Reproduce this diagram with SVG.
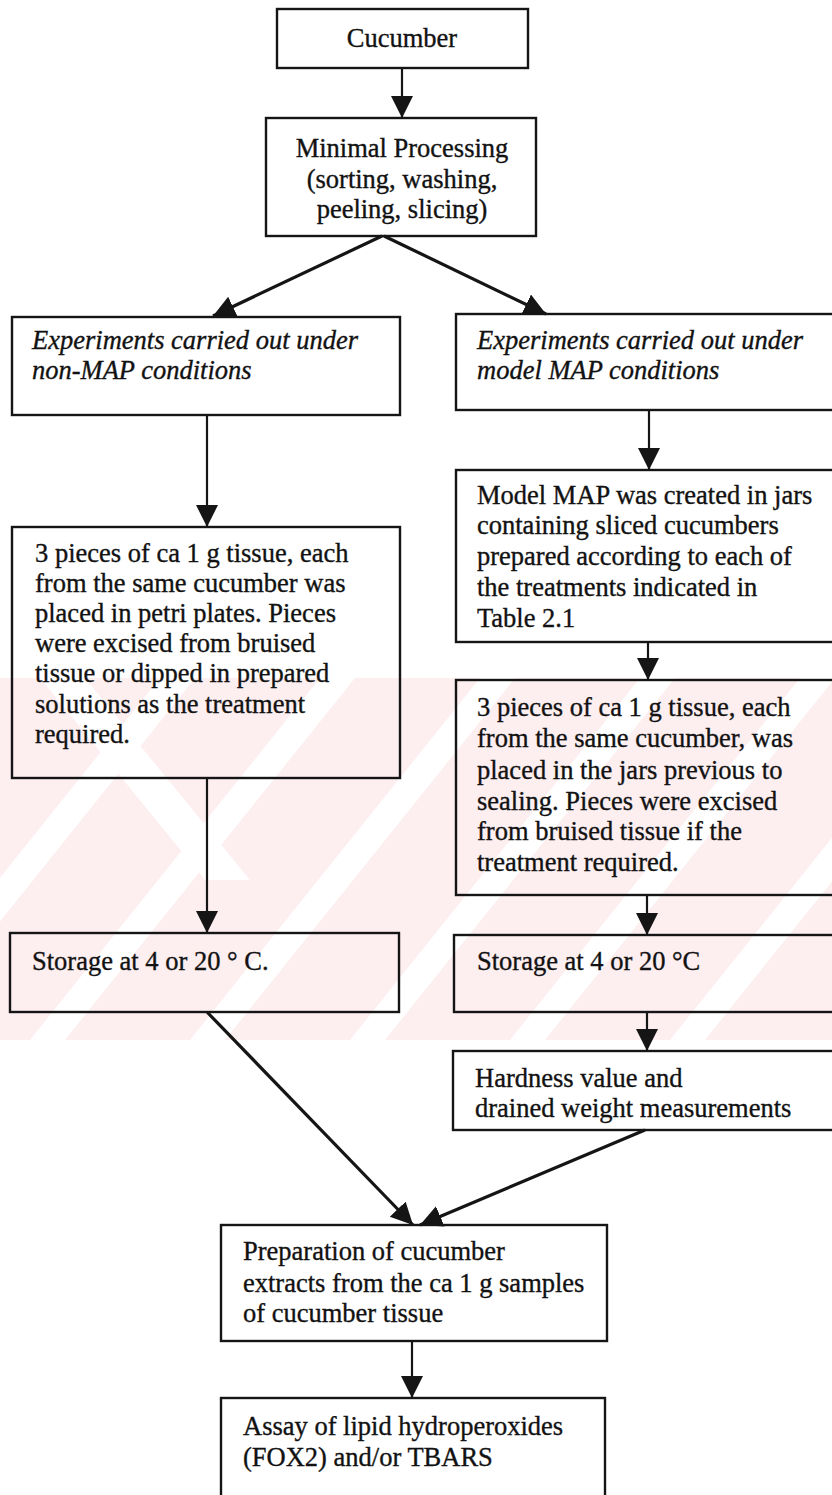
<svg xmlns="http://www.w3.org/2000/svg" width="832" height="1495" viewBox="0 0 832 1495">
<style>
  .box { fill: none; stroke: #151515; stroke-width: 2.4; }
  .t { font-family: "Liberation Serif", "Times New Roman", serif; font-size: 26.5px; fill: #121212; stroke: #121212; stroke-width: 0.35; }
  .ti { font-style: italic; }
  .c { text-anchor: middle; }
  .ln { stroke: #151515; stroke-width: 2.2; fill: none; }
  .dl { stroke: #151515; stroke-width: 3.2; fill: none; }
  .wm { fill: #ffffff; }
</style>
<defs>
  <marker id="ah" markerUnits="userSpaceOnUse" markerWidth="24" markerHeight="24" refX="22" refY="11" orient="auto">
    <path d="M0,0 L22,11 L0,22 z" fill="#151515"/>
  </marker>
  <clipPath id="wmclip"><rect x="0" y="678" width="832" height="362"/></clipPath>
</defs>
<rect x="0" y="0" width="832" height="1495" fill="#ffffff"/>
<g id="watermark" clip-path="url(#wmclip)">
  <rect x="0" y="678" width="832" height="362" fill="#fdeef0"/>
  <polygon class="wm" points="-130,1040 -95,1040 195,678 160,678"/>
  <polygon class="wm" points="30,1040 65,1040 355,678 320,678"/>
  <polygon class="wm" points="190,1040 225,1040 515,678 480,678"/>
  <polygon class="wm" points="350,1040 385,1040 675,678 640,678"/>
  <polygon class="wm" points="510,1040 545,1040 835,678 800,678"/>
  <polygon class="wm" points="670,1040 705,1040 995,678 960,678"/>
  <polygon class="wm" points="40,678 85,678 250,880 205,880"/>
</g>
<g id="connectors">
  <line class="ln" x1="402" y1="68" x2="402" y2="118" marker-end="url(#ah)"/>
  <line class="dl" x1="382" y1="236" x2="213" y2="316" marker-end="url(#ah)"/>
  <line class="dl" x1="384" y1="236" x2="546" y2="314" marker-end="url(#ah)"/>
  <line class="ln" x1="207" y1="415" x2="207" y2="527" marker-end="url(#ah)"/>
  <line class="ln" x1="207" y1="778" x2="207" y2="933" marker-end="url(#ah)"/>
  <line class="dl" x1="207" y1="1012" x2="413" y2="1225" marker-end="url(#ah)"/>
  <line class="ln" x1="649" y1="410" x2="649" y2="470" marker-end="url(#ah)"/>
  <line class="ln" x1="648" y1="642" x2="648" y2="680" marker-end="url(#ah)"/>
  <line class="ln" x1="647" y1="895" x2="647" y2="935" marker-end="url(#ah)"/>
  <line class="ln" x1="647" y1="1012" x2="647" y2="1051" marker-end="url(#ah)"/>
  <line class="dl" x1="645" y1="1130" x2="420" y2="1225" marker-end="url(#ah)"/>
  <line class="ln" x1="412" y1="1341" x2="412" y2="1398" marker-end="url(#ah)"/>
</g>
<g id="n-cucumber">
  <rect class="box" x="277" y="9" width="251" height="59"/>
  <text class="t c" x="402" y="47">Cucumber</text>
</g>
<g id="n-minimal">
  <rect class="box" x="266" y="118" width="270" height="118"/>
  <text class="t c" x="402" y="157">Minimal Processing</text>
  <text class="t c" x="402" y="188">(sorting, washing,</text>
  <text class="t c" x="402" y="218">peeling, slicing)</text>
</g>
<g id="n-nonmap">
  <rect class="box" x="12" y="317" width="388" height="98"/>
  <text class="t ti" x="32" y="349">Experiments carried out under</text>
  <text class="t ti" x="32" y="379">non-MAP conditions</text>
</g>
<g id="n-map">
  <rect class="box" x="456" y="314" width="420" height="96"/>
  <text class="t ti" x="477" y="349">Experiments carried out under</text>
  <text class="t ti" x="477" y="379">model MAP conditions</text>
</g>
<g id="n-pieces-left">
  <rect class="box" x="12" y="527" width="388" height="251"/>
  <text class="t" x="35" y="562">3 pieces of ca 1 g tissue, each</text>
  <text class="t" x="35" y="592">from the same cucumber was</text>
  <text class="t" x="35" y="622">placed in petri plates. Pieces</text>
  <text class="t" x="35" y="652">were excised from bruised</text>
  <text class="t" x="35" y="682">tissue or dipped in prepared</text>
  <text class="t" x="35" y="713">solutions as the treatment</text>
  <text class="t" x="35" y="743">required.</text>
</g>
<g id="n-model-map">
  <rect class="box" x="456" y="470" width="420" height="172"/>
  <text class="t" x="477" y="504">Model MAP was created in jars</text>
  <text class="t" x="477" y="534">containing sliced cucumbers</text>
  <text class="t" x="477" y="565">prepared according to each of</text>
  <text class="t" x="477" y="596">the treatments indicated in</text>
  <text class="t" x="477" y="627">Table 2.1</text>
</g>
<g id="n-pieces-right">
  <rect class="box" x="456" y="680" width="420" height="215"/>
  <text class="t" x="477" y="716">3 pieces of ca 1 g tissue, each</text>
  <text class="t" x="477" y="747">from the same cucumber, was</text>
  <text class="t" x="477" y="779">placed in the jars previous to</text>
  <text class="t" x="477" y="810">sealing. Pieces were excised</text>
  <text class="t" x="477" y="840">from bruised tissue if the</text>
  <text class="t" x="477" y="871">treatment required.</text>
</g>
<g id="n-storage-left">
  <rect class="box" x="10" y="933" width="389" height="79"/>
  <text class="t" x="32" y="970">Storage at 4 or 20 ° C.</text>
</g>
<g id="n-storage-right">
  <rect class="box" x="454" y="935" width="420" height="77"/>
  <text class="t" x="477" y="970">Storage at 4 or 20 °C</text>
</g>
<g id="n-hardness">
  <rect class="box" x="453" y="1051" width="420" height="79"/>
  <text class="t" x="475" y="1087">Hardness value and</text>
  <text class="t" x="475" y="1117">drained weight measurements</text>
</g>
<g id="n-preparation">
  <rect class="box" x="221" y="1225" width="386" height="116"/>
  <text class="t" x="243" y="1260">Preparation of cucumber</text>
  <text class="t" x="243" y="1292">extracts from the ca 1 g samples</text>
  <text class="t" x="243" y="1322">of cucumber tissue</text>
</g>
<g id="n-assay">
  <rect class="box" x="221" y="1398" width="384" height="130"/>
  <text class="t" x="243" y="1435">Assay of lipid hydroperoxides</text>
  <text class="t" x="243" y="1466">(FOX2) and/or TBARS</text>
</g>
</svg>
